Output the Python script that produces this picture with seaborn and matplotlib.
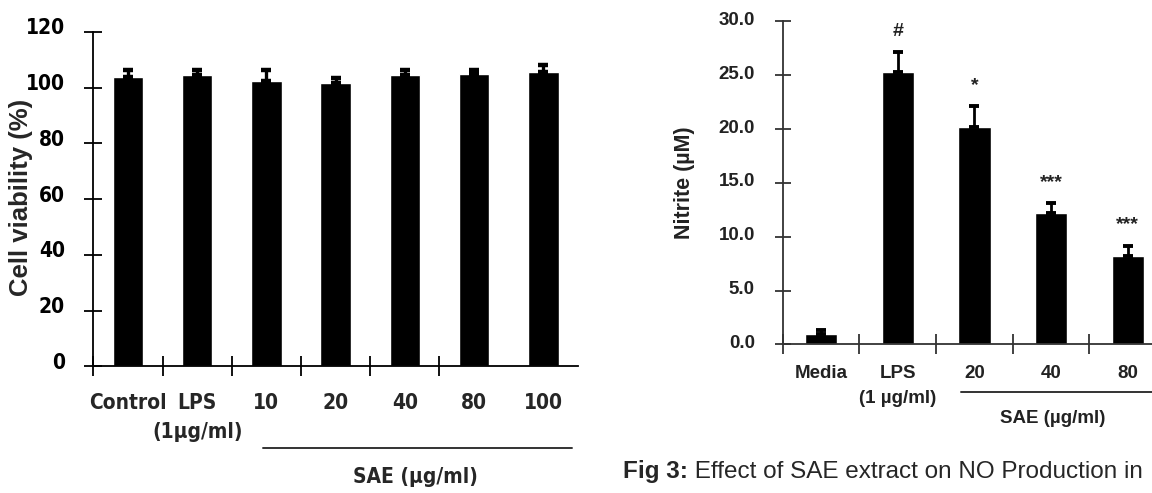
import numpy as np
import pandas as pd
import matplotlib
matplotlib.use("Agg")
import matplotlib.pyplot as plt
import matplotlib.transforms as mtransforms
from matplotlib import font_manager as fm
import seaborn as sns

# ==============================================================================
# DATA
# ==============================================================================
# left panel: cell viability
VIAB_GROUPS = ["Control", "LPS", "10", "20", "40", "80", "100"]
VIAB_MEAN   = [103.7, 104.4, 102.3, 101.7, 104.4, 105.1, 105.7]
VIAB_ERR    = [2.5, 1.8, 3.9, 1.7, 1.8, 1.1, 2.4]
VIAB_TICKS  = [0, 20, 40, 60, 80, 100, 120]

# right panel: nitrite production
NO_GROUPS = ["Media", "LPS", "20", "40", "80"]
NO_MEAN   = [0.96, 25.3, 20.17, 12.22, 8.23]
NO_ERR    = [0.38, 1.8, 1.93, 0.87, 0.9]
NO_SIG    = ["", "#", "*", "***", "***"]
NO_TICKS  = [0, 5, 10, 15, 20, 25, 30]

# ==============================================================================
sns.set_theme(style="ticks")
plt.rcParams["font.family"] = ["Liberation Sans", "DejaVu Sans"]

# left panel of the original uses a narrow bold face -- pick one if installed
entries = fm.fontManager.ttflist
names = {f.name for f in entries}
if "Liberation Sans Narrow" in names:
    NARROW = dict(fontfamily=["Liberation Sans Narrow", "DejaVu Sans"])
    NSIZE = 16.5
elif "DejaVu Sans Condensed" in names:
    NARROW = dict(fontfamily=["DejaVu Sans Condensed", "DejaVu Sans"])
    NSIZE = 15
elif any(f.name == "DejaVu Sans" and str(f.stretch) in ("condensed", "semi-condensed")
         for f in entries):
    NARROW = dict(fontfamily=["DejaVu Sans"], fontstretch="condensed")
    NSIZE = 15
else:
    NARROW = dict(fontfamily=["Liberation Sans", "DejaVu Sans"])
    NSIZE = 14.5


def narrow(t, size=None):
    t.set_fontfamily(NARROW["fontfamily"])
    if "fontstretch" in NARROW:
        t.set_fontstretch(NARROW["fontstretch"])
    t.set_fontweight("bold")
    t.set_fontsize(size or NSIZE)


fig = plt.figure(figsize=(11.52, 4.93), dpi=100)
ax1 = fig.add_axes([0.081, 0.2566, 0.4207, 0.6785])
ax2 = fig.add_axes([0.6794, 0.3014, 0.3329, 0.656])

df1 = pd.DataFrame({"group": VIAB_GROUPS, "value": VIAB_MEAN})
df2 = pd.DataFrame({"group": NO_GROUPS, "value": NO_MEAN})

# --- Left: cell viability ---
sns.barplot(data=df1, x="group", y="value", color="black", saturation=1,
            width=0.44, errorbar=None, ax=ax1)
ax1.errorbar(np.arange(len(VIAB_MEAN)), VIAB_MEAN,
             yerr=[np.zeros(len(VIAB_ERR)), VIAB_ERR],
             fmt="none", ecolor="black", elinewidth=2.4, capsize=3.6, capthick=3.2)

ax1.set_xlim(-0.5, len(VIAB_GROUPS) - 0.5)
ax1.set_ylim(0, 120)
ax1.set_yticks(VIAB_TICKS)
ax1.set_xticks(np.arange(len(VIAB_GROUPS)))
ax1.set_xticklabels(VIAB_GROUPS)
ax1.set_xticks(np.arange(len(VIAB_GROUPS) - 1) - 0.5, minor=True)
ax1.set_xlabel("")
ax1.set_ylabel("")
for s in ["top", "right"]:
    ax1.spines[s].set_visible(False)
for s in ["left", "bottom"]:
    ax1.spines[s].set_color("black")
    ax1.spines[s].set_linewidth(1.3)
ax1.tick_params(axis="y", direction="inout", length=13, width=1.3, pad=14, colors="black")
ax1.tick_params(axis="x", which="major", length=0, pad=19)
ax1.tick_params(axis="x", which="minor", direction="inout", length=15, width=1.3, color="black")
up5 = mtransforms.ScaledTranslation(0, 4 / 72, fig.dpi_scale_trans)
for lab in ax1.get_yticklabels():
    narrow(lab)
    lab.set_transform(lab.get_transform() + up5)
for lab in ax1.get_xticklabels():
    narrow(lab)

tr1 = mtransforms.blended_transform_factory(ax1.transData, ax1.transAxes)
t = ax1.text(1, -0.195, "(1\u00b5g/ml)", transform=tr1, ha="center", va="center")
narrow(t)
ax1.plot([1.95, 6.42], [-0.2445, -0.2445], transform=tr1, clip_on=False,
         color="#333333", lw=1.4)
t = ax1.text(4.157, -0.331, "SAE (\u00b5g/ml)", transform=tr1, ha="center", va="center")
narrow(t)
fig.text(0.0182, 0.6004, "Cell viability (%)", rotation=90, ha="center", va="center",
         fontweight="bold", fontsize=18.5)

# --- Right: nitrite ---
sns.barplot(data=df2, x="group", y="value", color="black", saturation=1,
            width=0.42, errorbar=None, ax=ax2)
ax2.errorbar(np.arange(len(NO_MEAN)), NO_MEAN,
             yerr=[np.zeros(len(NO_ERR)), NO_ERR],
             fmt="none", ecolor="black", elinewidth=2, capsize=3.5, capthick=2.8)
for i, sig in enumerate(NO_SIG):
    if sig:
        ax2.annotate(sig, xy=(i, NO_MEAN[i] + NO_ERR[i]), xytext=(0, 9),
                     textcoords="offset points", ha="center", va="bottom",
                     fontsize=14, fontweight="bold", color="#222222")

ax2.set_xlim(-0.5, len(NO_GROUPS) - 0.5)
ax2.set_ylim(0, 30)
ax2.set_yticks(NO_TICKS)
ax2.set_yticklabels([f"{t:.1f}" for t in NO_TICKS])
ax2.set_xticks(np.arange(len(NO_GROUPS)))
ax2.set_xticklabels(NO_GROUPS)
ax2.set_xticks(np.arange(len(NO_GROUPS)) - 0.5, minor=True)
ax2.set_xlabel("")
ax2.set_ylabel("")
for s in ["top", "right"]:
    ax2.spines[s].set_visible(False)
for s in ["left", "bottom"]:
    ax2.spines[s].set_color("#333333")
    ax2.spines[s].set_linewidth(1.3)
ax2.tick_params(axis="y", direction="inout", length=12, width=1.3, pad=14,
                color="#333333", labelcolor="#222222")
ax2.tick_params(axis="x", which="major", length=0, pad=15, labelcolor="#222222")
ax2.tick_params(axis="x", which="minor", direction="inout", length=15, width=1.3,
                color="#333333")
up2 = mtransforms.ScaledTranslation(0, 2 / 72, fig.dpi_scale_trans)
for lab in ax2.get_yticklabels():
    lab.set_fontweight("bold"); lab.set_fontsize(13.5)
    lab.set_transform(lab.get_transform() + up2)
for lab in ax2.get_xticklabels():
    lab.set_fontweight("bold"); lab.set_fontsize(13.5)

tr2 = mtransforms.blended_transform_factory(ax2.transData, ax2.transAxes)
ax2.text(1, -0.1667, "(1 \u00b5g/ml)", transform=tr2, ha="center", va="center",
         fontweight="bold", fontsize=13.5, color="#222222")
ax2.plot([1.83, 4.8], [-0.146, -0.146], transform=tr2, clip_on=False,
         color="#333333", lw=1.4)
ax2.text(3.018, -0.2285, "SAE (\u00b5g/ml)", transform=tr2, ha="center", va="center",
         fontweight="bold", fontsize=13.5, color="#222222")
fig.text(0.5946, 0.6298, "Nitrite (\u00b5M)", rotation=90, ha="center", va="center",
         fontweight="bold", fontsize=15.5, color="#222222")

# --- caption ---
cap1 = fig.text(0.5408, 0.0432, "Fig 3:", ha="left", va="center",
                fontweight="bold", fontsize=17.5)
fig.canvas.draw()
bb = cap1.get_window_extent()
fig.text(bb.x1 / fig.bbox.width, 0.0432, " Effect of SAE extract on NO Production in",
         ha="left", va="center", fontsize=17.5)

fig.savefig("out.png", dpi=100)
